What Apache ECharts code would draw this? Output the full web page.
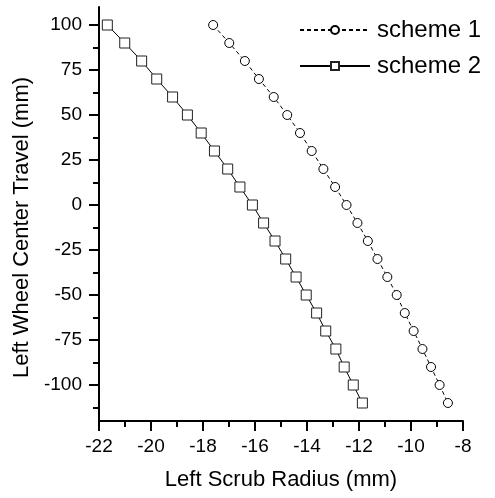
<!DOCTYPE html>
<html>
<head>
<meta charset="utf-8">
<title>Scrub radius vs wheel travel</title>
<script src="https://cdn.jsdelivr.net/npm/echarts@6/dist/echarts.min.js"></script>
<style>
  html, body { margin: 0; padding: 0; background: #fff; }
  #chart { width: 495px; height: 498px; }
</style>
</head>
<body>
<div id="chart"></div>
<script>
// wheel travel (mm), same for both schemes
const travel = [100, 90, 80, 70, 60, 50, 40, 30, 20, 10, 0,
  -10, -20, -30, -40, -50, -60, -70, -80, -90, -100, -110];
// scrub radius (mm)
const scheme1 = [-17.61, -16.99, -16.39, -15.85, -15.28, -14.76, -14.27, -13.82, -13.37, -12.92, -12.48,
  -12.06, -11.66, -11.29, -10.91, -10.55, -10.24, -9.90, -9.56, -9.23, -8.90, -8.58];
const scheme2 = [-21.68, -21.01, -20.36, -19.78, -19.17, -18.60, -18.07, -17.56, -17.05, -16.58, -16.10,
  -15.67, -15.23, -14.82, -14.42, -14.03, -13.63, -13.28, -12.89, -12.57, -12.22, -11.87];
const yMajorTicks = [-100, -75, -50, -25, 0, 25, 50, 75, 100];
const yMinorTicks = [-112.5, -87.5, -62.5, -37.5, -12.5, 12.5, 37.5, 62.5, 87.5];

const font = "'Liberation Sans', Arial, sans-serif";
const pairs = (xs) => xs.map((x, i) => [x, travel[i]]);

const chart = echarts.init(document.getElementById("chart"));
const option = {
  animation: false,
  textStyle: { fontFamily: font, color: "#000" },
  grid: { left: 99, right: 32, top: 7, bottom: 77, outerBoundsMode: "none" },
  legend: {
    orient: "vertical",
    left: 294,
    top: 13,
    itemWidth: 70,
    itemHeight: 10,
    itemGap: 12,
    textStyle: { fontFamily: font, fontSize: 24, color: "#000", padding: [0, 0, 0, 2] },
    data: ["scheme 1", "scheme 2"],
  },
  xAxis: {
    type: "value",
    min: -22,
    max: -8,
    interval: 2,
    name: "Left Scrub Radius (mm)",
    nameLocation: "middle",
    nameGap: 48,
    nameTextStyle: { fontFamily: font, fontSize: 22, color: "#000" },
    axisLine: { show: true, onZero: false, lineStyle: { color: "#000", width: 2 } },
    axisTick: { show: true, length: 10, lineStyle: { color: "#000", width: 2 } },
    minorTick: { show: true, splitNumber: 2, length: 6, lineStyle: { color: "#000", width: 2 } },
    axisLabel: { fontFamily: font, fontSize: 19, color: "#000", margin: 16 },
    splitLine: { show: false },
  },
  yAxis: [
    {
      type: "value",
      position: "left",
      min: -120,
      max: 110,
      name: "Left Wheel Center Travel (mm)",
      nameLocation: "middle",
      nameGap: 65,
      nameTextStyle: { fontFamily: font, fontSize: 22, color: "#000", padding: [0, 27, 0, 0] },
      axisLine: { show: true, onZero: false, lineStyle: { color: "#000", width: 2 } },
      axisTick: { show: true, length: 10, customValues: yMajorTicks, lineStyle: { color: "#000", width: 2 } },
      axisLabel: { fontFamily: font, fontSize: 19, color: "#000", margin: 17, customValues: yMajorTicks },
      splitLine: { show: false },
    },
    {
      // minor ticks only
      type: "value",
      position: "left",
      min: -120,
      max: 110,
      axisLine: { show: false, onZero: false },
      axisTick: { show: true, length: 6, customValues: yMinorTicks, lineStyle: { color: "#000", width: 2 } },
      axisLabel: { show: false },
      splitLine: { show: false },
    },
  ],
  series: [
    {
      name: "scheme 1",
      type: "line",
      data: pairs(scheme1),
      symbol: "circle",
      symbolSize: 9,
      lineStyle: { color: "#000", width: 1, type: [4, 3] },
      itemStyle: { color: "#fff", borderColor: "#000", borderWidth: 1 },
    },
    {
      name: "scheme 2",
      type: "line",
      data: pairs(scheme2),
      symbol: "rect",
      symbolSize: 10,
      lineStyle: { color: "#000", width: 1 },
      itemStyle: { color: "#fff", borderColor: "#222", borderWidth: 1 },
    },
  ],
};
chart.setOption(option);
</script>
</body>
</html>
